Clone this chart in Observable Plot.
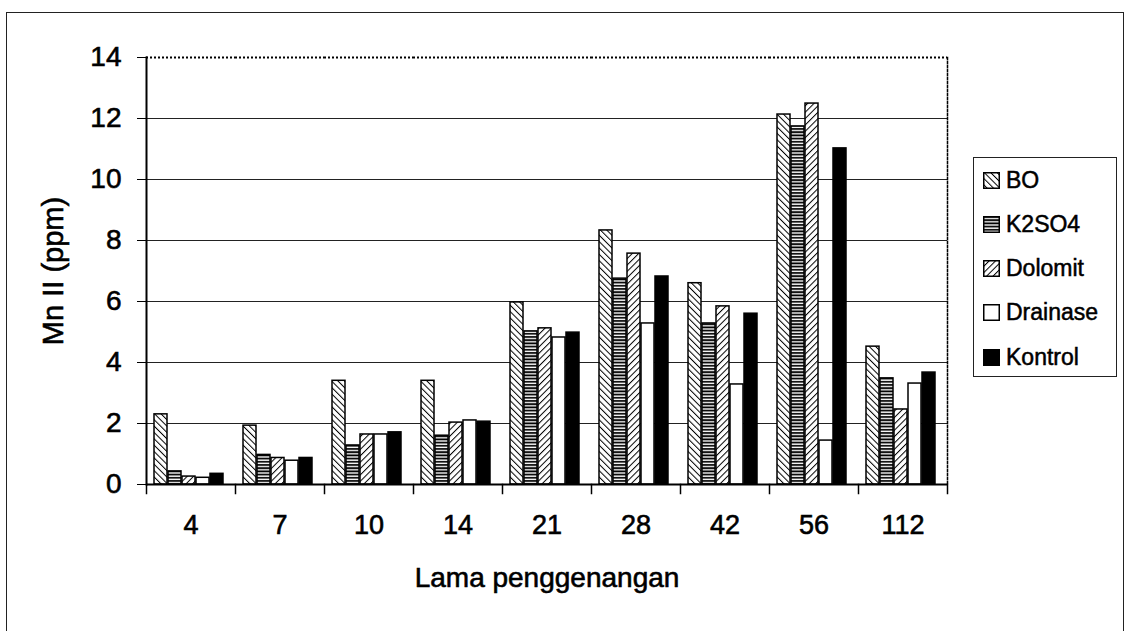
<!DOCTYPE html>
<html>
<head>
<meta charset="utf-8">
<script src="https://cdn.jsdelivr.net/npm/d3@7"></script>
<script src="https://cdn.jsdelivr.net/npm/@observablehq/plot@0.6"></script>
<style>
  html, body { margin: 0; padding: 0; background: #fff; }
  body { width: 1133px; height: 631px; position: relative; overflow: hidden; font-family: "Liberation Sans", Arial, sans-serif; }
  #outer { position: absolute; left: 6px; top: 12px; width: 1118px; height: 625px; border: 1.5px solid #222; box-sizing: border-box; pointer-events: none; }
  #chart { position: absolute; left: 0; top: 0; }
  #chart svg text { stroke: #000; stroke-width: 0.6px; paint-order: stroke; }
  #legend { position: absolute; left: 973px; top: 157px; width: 144px; height: 220px; border: 1.5px solid #222; box-sizing: border-box; background: #fff; }
  .row { position: absolute; left: 9px; display: flex; align-items: center; font-size: 23px; color: #000; -webkit-text-stroke: 0.5px #000; }
  .row svg { margin-right: 6px; }
</style>
</head>
<body>
<svg width="0" height="0" style="position:absolute">
  <defs>
    <pattern id="pBO" patternUnits="userSpaceOnUse" width="4.5" height="4.5" patternTransform="rotate(-45)">
      <rect width="4.5" height="4.5" fill="#fff"/>
      <line x1="0" y1="0" x2="0" y2="4.5" stroke="#000" stroke-width="2"/>
    </pattern>
    <pattern id="pK" patternUnits="userSpaceOnUse" width="4" height="3.2">
      <rect width="4" height="3.2" fill="#fff"/>
      <line x1="0" y1="1" x2="4" y2="1" stroke="#000" stroke-width="1.8"/>
    </pattern>
    <pattern id="pDol" patternUnits="userSpaceOnUse" width="4.5" height="4.5" patternTransform="rotate(45)">
      <rect width="4.5" height="4.5" fill="#fff"/>
      <line x1="0" y1="0" x2="0" y2="4.5" stroke="#000" stroke-width="2"/>
    </pattern>
  </defs>
</svg>
<div id="chart"></div>
<div id="outer"></div>
<div id="legend"></div>
<script>
// ---- data ----
const categories = ["4", "7", "10", "14", "21", "28", "42", "56", "112"];
const series = ["BO", "K2SO4", "Dolomit", "Drainase", "Kontrol"];
const BO       = [2.30, 1.93, 3.40, 3.40, 5.97, 8.33, 6.60, 12.13, 4.52];
const K2SO4    = [0.43, 0.97, 1.28, 1.60, 5.02, 6.75, 5.28, 11.74, 3.48];
const Dolomit  = [0.26, 0.87, 1.64, 2.03, 5.12, 7.57, 5.84, 12.49, 2.46];
const Drainase = [0.22, 0.78, 1.64, 2.10, 4.82, 5.28, 3.28, 1.44, 3.31];
const Kontrol  = [0.35, 0.87, 1.71, 2.06, 4.98, 6.82, 5.60, 11.02, 3.67];
const yTicks = [0, 2, 4, 6, 8, 10, 12, 14];
const gridValues = [2, 4, 6, 8, 10, 12];
const fills = ["url(#pBO)", "url(#pK)", "url(#pDol)", "#fff", "#000"];

const valuesBySeries = {BO, K2SO4, Dolomit, Drainase, Kontrol};
const table = [];
categories.forEach((c, i) => series.forEach(s => table.push({cat: c, series: s, value: valuesBySeries[s][i]})));

const W = 1133, H = 631, mT = 57, mB = 147, mL = 145, mR = 186;
const innerH = H - mT - mB;

const chart = Plot.plot({
  width: W, height: H,
  marginTop: mT, marginBottom: mB, marginLeft: mL, marginRight: mR,
  style: {fontFamily: "'Liberation Sans', Arial, sans-serif", background: "transparent", color: "#000"},
  fx: {domain: categories, padding: 0, axis: null},
  x: {domain: series, paddingInner: 0.05, paddingOuter: 0.6, align: 0.4, axis: null},
  y: {domain: [0, 14], axis: null},
  color: {domain: series, range: fills},
  marks: [
    Plot.ruleY(gridValues, {stroke: "#222", strokeWidth: 1}),
    Plot.ruleY([14], {stroke: "#000", strokeWidth: 2, strokeDasharray: "2,2"}),
    Plot.frame({anchor: "right", facetAnchor: "right", stroke: "#000", strokeWidth: 1.5, strokeDasharray: "2,2"}),
    Plot.barY(table, {fx: "cat", x: "series", y: "value", fill: "series", stroke: "#000", strokeWidth: 1.5}),
    Plot.ruleY([0], {stroke: "#000", strokeWidth: 2}),
    Plot.frame({anchor: "left", facetAnchor: "left", stroke: "#000", strokeWidth: 2, strokeDasharray: "3,1"}),
    Plot.frame({anchor: "left", insetTop: innerH, insetBottom: -9, stroke: "#000", strokeWidth: 1.5}),
    Plot.frame({anchor: "right", facetAnchor: "right", insetTop: innerH, insetBottom: -9, stroke: "#000", strokeWidth: 1.5}),
    Plot.axisY({ticks: yTicks, tickSize: 9, tickPadding: 16, fontSize: 28, tickFormat: d => String(d), label: null}),
    Plot.axisY({ticks: [], tickSize: 0, fontSize: 29,
      label: "Mn II (ppm)", labelAnchor: "center", labelArrow: "none", labelOffset: 104}),
    Plot.axisFx({anchor: "bottom", tickSize: 0, tickPadding: 30, fontSize: 27, label: null}),
    Plot.axisFx({anchor: "bottom", tickSize: 0, ticks: [], fontSize: 28, tickFormat: () => "",
      label: "Lama penggenangan", labelAnchor: "center", labelArrow: "none", labelOffset: 102})
  ]
});
document.getElementById("chart").appendChild(chart);

// legend
const leg = document.getElementById("legend");
const rowTops = [9, 53, 97, 141, 186];
series.forEach((s, i) => {
  const row = document.createElement("div");
  row.className = "row";
  row.style.top = rowTops[i] + "px";
  row.innerHTML = `<svg width="17" height="17"><rect x="0.75" y="0.75" width="15.5" height="15.5" fill="${fills[i]}" stroke="#000" stroke-width="1.5"/></svg><span>${s}</span>`;
  leg.appendChild(row);
});
</script>
</body>
</html>
